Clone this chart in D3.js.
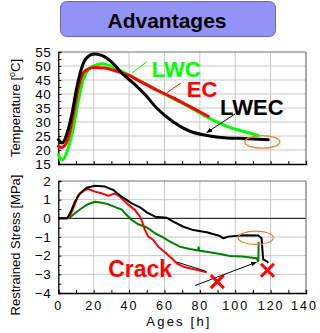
<!DOCTYPE html>
<html><head><meta charset="utf-8">
<script src="https://cdn.jsdelivr.net/npm/d3@7"></script>
<style>body{margin:0;background:#fff}svg{display:block}</style>
</head><body>
<svg id="c" width="320" height="333"></svg>
<script>
// ---- data ----
const tempLWEC_h = [0,1,2.3,4.7,7.6,10.4,13.2,16,20.3,24.5,30.2,35.8,42.4,49,55.6,65,74.4,83.9,95.2,105,118.7];
const tempLWEC_T = [23.7,23,22.5,25.5,32.6,42.1,49.3,52.9,54.3,53.8,51.4,47.5,43.9,39.8,35,30,26.7,25.2,24.3,24.1,23.7];
const tempEC_h = [0,1.5,3,5.6,8.5,11.3,14.1,17,20.3,26.4,32,39.6,46.2,55,65,75,84.8];
const tempEC_T = [21.3,20.9,21.2,24.3,32.6,42.1,47.5,49,49.5,49.3,48.3,46.7,44.5,41.6,38.6,35.3,32];
const tempLWC_h = [0,1,2.3,5.6,8.5,11.3,14.1,17,20.7,24.5,30.2,35.8,41.5,49,57,65,75,85,97,105,113];
const tempLWC_T = [18.3,17,16.5,20.7,27.9,37.4,45.1,48.7,50.2,50.8,49.9,48.1,46.3,43.7,41,38.3,35,31.5,28.1,26.6,25.2];

const strLWEC_h = [0,4.7,5.6,7.5,9.4,12.3,16,20.7,26.4,31.1,35.8,41.5,46.2,50,54.7,61.3,65,70.7,76.3,83.9,91.4,93.3,96.1,104.6,113,114.9,115.3,115.8,117.8,118.7];
const strLWEC_S = [0,0,0.09,0.45,0.89,1.34,1.64,1.75,1.7,1.52,1.16,0.8,0.59,0.32,0.09,0.03,-0.18,-0.45,-0.63,-0.75,-0.95,-1.07,-0.98,-0.9,-0.92,-1.07,-1.6,-2.2,-2.3,-2.38];
const strEC_h = [0,5,6.5,8.5,11.3,15.1,17,20.7,24.5,28.3,32,34.9,38.7,43.4,46.2,47.1,48,49,50.9,53.7,56.5,60.3,64.1,66.9,70.7,76.3,83.9];
const strEC_S = [0,0,0.12,0.54,1.25,1.52,1.57,1.43,1.34,1.21,1.34,1.16,0.8,0.44,0.09,-0.1,-0.36,-0.63,-0.98,-1.16,-1.52,-1.82,-2.14,-2.41,-2.59,-2.72,-2.89];
const strLWC_h = [0,6,9.4,13.2,17,20.7,24.5,28.3,33,35.8,37.7,41.5,45.2,49,50.9,54.7,58.5,63.1,68.8,74.4,79,79.3,79.6,83.9,91.4,97,103.7,112.2,112.8,113.1,113.2];
const strLWC_S = [0,0,0.27,0.54,0.77,0.89,0.84,0.75,0.57,0.48,0.27,-0.09,-0.32,-0.45,-0.54,-0.8,-0.98,-1.25,-1.52,-1.64,-1.72,-1.55,-1.74,-1.79,-1.91,-2.02,-2.05,-2.14,-2.3,-2.25,-1.25];

const xTicks = [0,20,40,60,80,100,120,140];
const tTicks = [15,20,25,30,35,40,45,50,55];
const sTicks = [-4,-3,-2,-1,0,1,2];

// ---- scales ----
const svg = d3.select("#c");
const x = d3.scaleLinear().domain([0,140]).range([58.3,306]);
const yT = d3.scaleLinear().domain([15,55]).range([164,52]);
const yS = d3.scaleLinear().domain([-4,2]).range([293,181]);
const F = "Liberation Sans, Arial, sans-serif";

const defs = svg.append("defs");
defs.append("marker").attr("id","ah").attr("viewBox","0 0 10 10").attr("refX",9).attr("refY",5)
  .attr("markerWidth",6).attr("markerHeight",6).attr("orient","auto")
  .append("path").attr("d","M0,1L10,5L0,9z").attr("fill","#000");

// title
svg.append("rect").attr("x",60.5).attr("y",1.5).attr("width",215).attr("height",35).attr("rx",6)
  .attr("fill","#9393f7").attr("stroke","#6b6b9e").attr("stroke-width",1);
svg.append("text").attr("x",167).attr("y",27.5).attr("text-anchor","middle")
  .attr("font-family",F).attr("font-weight","bold").attr("font-size",21)
  .attr("fill","#000").text("Advantages");

function panel(y, ticks, minorStep, grid, dark0){
  const [y0,y1] = y.domain();
  const g = svg.append("g");
  g.selectAll(".gv").data(xTicks.slice(1,-1)).join("line")
    .attr("x1",d=>x(d)).attr("x2",d=>x(d)).attr("y1",y(y0)).attr("y2",y(y1))
    .attr("stroke","#c8c8c8").attr("stroke-width",1);
  g.selectAll(".gh").data(grid).join("line")
    .attr("x1",x(0)).attr("x2",x(140)).attr("y1",d=>y(d)).attr("y2",d=>y(d))
    .attr("stroke",d=>dark0 && d===0 ? "#000" : "#c8c8c8").attr("stroke-width",1);
  g.append("line").attr("x1",x(0)).attr("x2",x(140)).attr("y1",y(y1)).attr("y2",y(y1)).attr("stroke","#707070").attr("stroke-width",1.2);
  g.append("line").attr("x1",x(140)).attr("x2",x(140)).attr("y1",y(y0)).attr("y2",y(y1)).attr("stroke","#707070").attr("stroke-width",1.2);
  const minor = d3.range(y0, y1+1e-9, minorStep);
  const ax = d3.axisLeft(y).tickValues(minor).tickSize(-3).tickFormat(d=> ticks.includes(+d.toFixed(2)) ? d3.format("d")(d) : "");
  const ga = svg.append("g").attr("transform",`translate(${x(0)},0)`).call(ax);
  ga.select(".domain").attr("stroke","#000").attr("stroke-width",1.3);
  ga.selectAll("text").attr("x",-7).attr("font-family",F).attr("font-size",13.5).attr("letter-spacing","0.5px").attr("fill","#000");
  const bx = d3.axisBottom(x).tickValues(d3.range(0,141,10)).tickSize(-3).tickFormat("");
  const gb = svg.append("g").attr("transform",`translate(0,${y(y0)})`).call(bx);
  gb.select(".domain").attr("stroke","#000").attr("stroke-width",1.3);
  return gb;
}

panel(yT, tTicks, 2.5, tTicks.slice(1,-1), false);
const gb2 = panel(yS, sTicks, 0.5, sTicks.slice(1,-1), true);
gb2.selectAll(".tick").filter(d=>xTicks.includes(d)).append("text")
  .attr("y",16.5).attr("text-anchor","middle").attr("fill","#000")
  .attr("font-family",F).attr("font-size",12.5).attr("letter-spacing","2px")
  .attr("dx",d=> d===140 ? "-2px" : "0px").text(d=>d);

// lines
function draw(hs, vs, y, color, w){
  const pts = hs.map((h,i)=>[h,vs[i]]);
  svg.append("path").datum(pts).attr("fill","none").attr("stroke",color).attr("stroke-width",w)
    .attr("stroke-linejoin","round").attr("stroke-linecap","round")
    .attr("d", d3.line().x(d=>x(d[0])).y(d=>y(d[1])).curve(d3.curveMonotoneX));
}
draw(tempLWC_h, tempLWC_T, yT, "#00ff00", 3);
draw(tempEC_h, tempEC_T, yT, "#ff0000", 3);
draw(tempLWEC_h, tempLWEC_T, yT, "#000", 3);

function drawL(hs, vs, y, color, w){
  const pts = hs.map((h,i)=>[h,vs[i]]);
  svg.append("path").datum(pts).attr("fill","none").attr("stroke",color).attr("stroke-width",w)
    .attr("stroke-linejoin","round").attr("d", d3.line().x(d=>x(d[0])).y(d=>y(d[1])));
}
drawL(strLWC_h, strLWC_S, yS, "#008000", 2);
drawL(strEC_h, strEC_S, yS, "#ff0000", 2);
drawL(strLWEC_h, strLWEC_S, yS, "#000", 2);

// annotations (top)
function label(t, hx, vy, y, color, size){
  svg.append("text").attr("x",x(hx)).attr("y",y(vy)).attr("font-family",F).attr("font-weight","bold")
    .attr("font-size",size).attr("fill",color).text(t);
}
function pointer(h1,v1,h2,v2,y,color,arrow){
  const l = svg.append("line").attr("x1",x(h1)).attr("y1",y(v1)).attr("x2",x(h2)).attr("y2",y(v2))
    .attr("stroke",color).attr("stroke-width",1);
  if(arrow) l.attr("marker-end","url(#ah)");
}
label("LWC", 52.8, 45.9, yT, "#00ff00", 22);
pointer(50,51.5,41.5,47.4,yT,"#00ff00",false);
label("EC", 72.6, 38.9, yT, "#ff0000", 22);
pointer(69.2,43.9,61.3,40.4,yT,"#ff0000",false);
label("LWEC", 91.4, 32.4, yT, "#000", 22);
pointer(100,32.9,83.9,26.2,yT,"#000",true);
svg.append("ellipse").attr("cx",x(115.3)).attr("cy",yT(22.9)).attr("rx",17.5).attr("ry",6.3)
  .attr("fill","none").attr("stroke","#f08030").attr("stroke-width",1.2);

// annotations (bottom)
label("Crack", 28.2, -3.15, yS, "#ff0000", 23);
pointer(66.9,-2.34,83.3,-2.83,yS,"#000",false);
pointer(77.3,-3.6,112,-2.35,yS,"#000",true);
svg.append("ellipse").attr("cx",x(111.6)).attr("cy",yS(-1.04)).attr("rx",17.5).attr("ry",6.7)
  .attr("fill","none").attr("stroke","#f08030").attr("stroke-width",1.2);
function cross(h,v){
  const cx=x(h), cy=yS(v), r=6.5;
  svg.append("path").attr("d",`M${cx-r},${cy-r}L${cx+r},${cy+r}M${cx+r},${cy-r}L${cx-r},${cy+r}`)
    .attr("stroke","#ff0000").attr("stroke-width",3).attr("fill","none");
}
cross(89.9,-3.39);
cross(118.2,-2.78);

// axis titles
svg.append("text").attr("transform",`translate(20,${(yT(15)+yT(55))/2}) rotate(-90)`).attr("text-anchor","middle")
  .attr("font-family",F).attr("font-size",13).attr("fill","#000")
  .call(t=>{t.append("tspan").text("Temperature [");t.append("tspan").attr("dy",-5).attr("font-size",9).text("o");t.append("tspan").attr("dy",5).text("C]");});
svg.append("text").attr("transform",`translate(20,${(yS(-4)+yS(2))/2+8}) rotate(-90)`).attr("text-anchor","middle")
  .attr("font-family",F).attr("font-size",13).attr("fill","#000").text("Restrained Stress [MPa]");
svg.append("text").attr("x",179).attr("y",326).attr("text-anchor","middle")
  .attr("font-family",F).attr("font-size",13).attr("letter-spacing","2.2px").attr("fill","#000").text("Ages [h]");
</script>
</body></html>
